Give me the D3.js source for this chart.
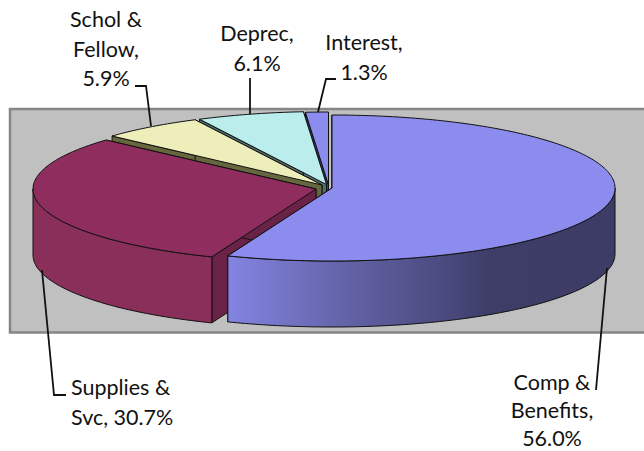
<!DOCTYPE html>
<html><head><meta charset="utf-8">
<script src="https://cdn.jsdelivr.net/npm/d3@7/dist/d3.min.js"></script>
<style>html,body{margin:0;padding:0;background:#fff}svg{display:block}text{font-family:Lato,"Open Sans",sans-serif;font-size:21.5px;fill:#111}</style>
</head><body><svg id="c" width="644" height="451"></svg>
<script>
const categories=["Comp & Benefits","Supplies & Svc","Schol & Fellow","Deprec","Interest"];
const shares=[56.0,30.7,5.9,6.1,1.3];
const topColors=["#8c8cee","#8f2e5e","#eeeebb","#bbeded","#8c8cee"];
const sideColors=["#3c3c66","#8a2e5a","#66663f","#4f6f6f","#3c3c72"];
const cutColors=["#3c3c66","#6a2346","#66663f","#4f6f6f","#3c3c72"];
const labelLines=[["Comp &","Benefits,","56.0%"],["Supplies &","Svc, 30.7%"],["Schol &","Fellow,","5.9%"],["Deprec,","6.1%"],["Interest,","1.3%"]];

const W=644,H=451,rx=283,ry=73,depth=66;
const centers=[[332,188],[316,189],[322,185],[326.5,184.5],[328.5,185]];
const labelPos=[[552,390,"middle",28],[71,395,"start",29.5],[106,27,"middle",29.5],[257,41,"middle",30],[364,50,"middle",29.5]];
const leaders=[
 [[596,390],[607,268]],
 [[66,395],[54,395],[42,270]],
 [[135,86],[146,86],[151,126]],
 [[250,78],[250,114]],
 [[336,79],[326,79],[318,112]]];

const svg=d3.select("#c");
const defs=svg.append("defs");
const grad=defs.append("linearGradient").attr("id","blueSide").attr("gradientUnits","userSpaceOnUse")
 .attr("x1",228).attr("x2",615).attr("y1",0).attr("y2",0);
[[0,"#8484e2"],[0.3,"#6363a8"],[0.55,"#4b4b80"],[0.68,"#3d3d68"],[1,"#3c3c66"]].forEach(s=>grad.append("stop").attr("offset",s[0]).attr("stop-color",s[1]));

svg.append("rect").attr("x",10).attr("y",109).attr("width",W+20).attr("height",223.5)
 .attr("fill","#c0c0c0").attr("stroke","#868686").attr("stroke-width",2.5);

const arcs=d3.pie().sort(null)(shares);
const px=(c,a)=>c[0]+rx*Math.sin(a), py=(c,a)=>c[1]-ry*Math.cos(a);
const line=d3.line();
const samples=(a0,a1)=>{const n=Math.max(4,Math.ceil((a1-a0)*60));return d3.range(n+1).map(i=>a0+(a1-a0)*i/n);};

function drawSlice(i){
 const d=arcs[i],c=centers[i],g=svg.append("g");
 const stroke={stroke:"#111","stroke-width":1,"stroke-linejoin":"round"};
 const style=s=>{Object.entries(stroke).forEach(([k,v])=>s.attr(k,v));return s;};
 [d.startAngle,d.endAngle].forEach(a=>{
  const p=[[c[0],c[1]],[px(c,a),py(c,a)],[px(c,a),py(c,a)+depth],[c[0],c[1]+depth]];
  style(g.append("path").attr("d",line(p)+"Z").attr("fill",cutColors[i]));
 });
 const f0=Math.max(d.startAngle,Math.PI/2),f1=Math.min(d.endAngle,Math.PI*1.5);
 if(f1>f0){
  const as=samples(f0,f1);
  const up=as.map(a=>[px(c,a),py(c,a)]);
  const dn=as.slice().reverse().map(a=>[px(c,a),py(c,a)+depth]);
  style(g.append("path").attr("d",line(up.concat(dn))+"Z").attr("fill",i===0?"url(#blueSide)":sideColors[i]));
 }
 const top=[[c[0],c[1]]].concat(samples(d.startAngle,d.endAngle).map(a=>[px(c,a),py(c,a)]));
 style(g.append("path").attr("d",line(top)+"Z").attr("fill",topColors[i]));
}
[4,3,2,1,0].forEach(drawSlice);

leaders.forEach(l=>svg.append("path").attr("d",line(l)).attr("fill","none").attr("stroke","#111").attr("stroke-width",1.8));

labelLines.forEach((ls,i)=>{
 const p=labelPos[i];
 const t=svg.append("text").attr("text-anchor",p[2]);
 ls.forEach((s,j)=>t.append("tspan").attr("x",p[0]).attr("y",p[1]+j*p[3]).text(s));
});
</script></body></html>
